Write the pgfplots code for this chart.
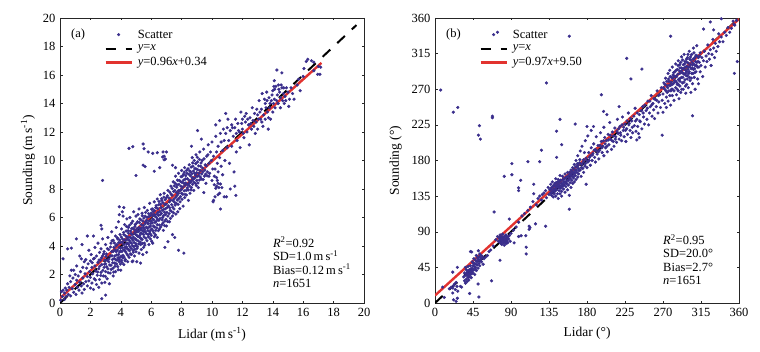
\documentclass[border=0pt]{standalone}
\usepackage{pgfplots}
\usepackage{fontspec}
\setmainfont{Liberation Serif}
\pgfplotsset{compat=1.18}
\definecolor{dotblue}{HTML}{3A2E8C}
\definecolor{linered}{HTML}{E2332F}
\pgfplotsset{common/.style={
  at={(0,0)},anchor=south west,
  scale only axis,width=304bp,height=285bp,
  axis line style={line width=0.9pt,color=black!85},
  tick style={color=black!85,line width=0.5pt},
  major tick length=2.5bp,
  tick align=inside,
  ticks=major,
  font=\fontsize{12.5bp}{14bp}\selectfont,
  tick label style={font=\fontsize{12.5bp}{14bp}\selectfont},
  label style={font=\fontsize{13.5bp}{15bp}\selectfont},
  /pgf/number format/assume math mode=true,
  xticklabel style={yshift=-2bp},
  yticklabel style={xshift=-1bp},
  xlabel style={yshift=-3.5bp},
  legend cell align=left,
  legend style={draw=none,fill=none,at={(rel axis cs:0.142,0.97)},anchor=north west,
    font=\fontsize{12.5bp}{14bp}\selectfont,row sep=1.4bp,inner sep=1bp,/tikz/column 1/.style={column sep=3bp}},
  scatterkey/.style={legend image code/.code={\draw[##1] plot coordinates {(0.46cm,0cm)};}},
}}
\pgfplotsset{
 /pgfplots/legend image code/.code={\draw[#1] plot coordinates {(0cm,0cm)(0.92cm,0cm)};}
}
\begin{document}
\begin{tikzpicture}[x=1bp,y=1bp]
\path[use as bounding box] (0,0) rectangle (760,351);
\begin{scope}[shift={(60,48)}]
\begin{axis}[common,xmin=0,xmax=20,ymin=0,ymax=20,xtick={0,2,...,20},ytick={0,2,...,20},
 ylabel style={yshift=1bp},
 xlabel={Lidar (m\,s\textsuperscript{-1})},ylabel={Sounding (m\,s\textsuperscript{-1})}]
\addplot[only marks,scatterkey,mark=*,mark size=1.4bp,mark options={draw=none,fill=dotblue},color=dotblue] coordinates {
(4.54,10.85)(4.79,10.97)(5.47,11.16)(5.53,10.83)(5.8,10.6)(6.1,10.5)(6.4,10.55)(6.78,10.6)(7,10.6)(6.85,10.3)(6.94,10.1)(6.85,10.05)(6.75,10.25)(5.47,9.67)(5.6,9.57)(6.56,9.5)(6.2,9.25)(7.4,9.67)(7.6,9.5)(5,8.95)(9.05,12.1)(9.3,11.5)(10.9,13.3)(11.05,12.9)(10.5,12.8)(10.25,12.5)(8.65,11)(14.27,16.35)(14.6,16.15)(14.1,15.6)(14.07,15.2)(16.2,16.95)(16.3,17.1)(16.55,17)(16.7,16.9)(16.05,16.45)(16.95,16.05)(17.1,16.05)(17.15,16.55)(17,16.6)(16.7,16.3)(2.8,8.6)
(10.07,7.1)(10.4,7.6)(10.2,7.45)(10.5,7.7)(10.56,6.6)(10.1,7.2)(11.5,8.2)(11.57,7.55)(11.2,8)(10.95,7.45)(10.8,7.45)(10.3,8.2)(10.4,8.4)(10.3,8.8)(9.46,7.75)(9.8,8.9)(10.45,8.1)(10.25,8.05)(10.55,8.35)(10.35,8.6)(10.15,8.9)(10.4,9.2)(10.6,9.6)(10.2,9.4)(10.7,9)
(7.4,4.8)(7.55,4.6)(7.1,4.3)(6.9,3.9)(7.8,3.7)(8.15,3.5)(5.3,2.8)(4.8,2.95)(5.05,2.9)(5.45,3.4)(3.9,6.75)(4.2,6.7)(3.9,6.2)(4.1,6.4)(1.08,4.5)(1.45,4.1)(0.5,3.8)(0.75,3.85)(0.2,3.1)(1.8,4.7)(2.2,4.7)(2.7,5.45)(2.75,5.2)(2.75,0.3)(3,0.55)
(0.05,0.2)(0.1,0.8)(0.15,0.45)(0.2,0.9)(0.3,0.25)(0.3,0.7)(0.35,1.05)(0.4,0.45)(0.45,0.9)(0.5,1.35)(0.55,0.6)(0.6,1.1)(0.65,1.9)(0.7,0.5)(0.7,1.5)(0.75,2.3)(0.8,1)(0.85,1.75)(0.9,2.3)(0.9,0.75)(1,1.3)(1,2)(1.05,0.6)(1.1,1.6)(1.1,2.6)(1.15,1.1)(1.2,1.9)(1.25,0.9)(1.3,1.45)(1.3,3.3)(1.35,2.2)(1.4,3.1)(1.4,1.2)(1.45,0.7)(1.5,1.75)(1.5,2.5)(1.55,1.35)(1.6,2.9)(1.6,0.95)(1.65,2.05)(1.7,1.5)(1.7,3.05)(1.75,2.45)(1.8,1.2)(1.8,1.85)(1.85,2.75)(1.9,3.7)(1.9,1.55)(1.95,2.2)(2,1.05)(2,2.95)(2,1.8)(2.05,3.4)(2.1,2.5)(2.1,1.4)(2.15,2.05)(2.2,3.1)(2.2,0.95)(2.25,1.7)(2.3,3.9)(2.3,2.6)(2.35,2.25)(2.4,1.3)(2.4,3.3)(2.45,1.95)(2.5,2.85)(2.5,4.2)(2.55,1.1)(2.55,2.4)(2.6,3.55)(2.6,1.65)(2.65,3)(2.7,2.15)(2.7,3.8)(2.75,1.4)(2.75,2.7)(2.8,3.3)(2.8,4.5)(2.85,1.9)(2.9,2.5)(2.9,3.6)(2.95,1.45)(2.95,3)(3,2.2)(3,4.1)(3,2.75)(3.05,3.45)(3.1,1.7)(3.1,3)(3.15,2.4)(3.15,4.6)(3.2,3.75)(3.2,2.9)(3.25,1.35)(3.3,3.3)(3.3,2.1)(3.35,4.2)(3.35,2.65)(3.4,3.6)(3.4,5)(3.45,3.05)(3.5,1.9)(3.5,4.4)(3.5,2.45)(3.55,3.9)(3.6,3.3)(3.6,2.8)(3.65,4.7)(3.65,2.2)(3.7,3.6)(3.7,5.3)(3.75,4.1)(3.75,3)(3.8,2.55)(3.8,4.5)(3.85,3.4)(3.85,5.7)(3.9,3.9)(3.9,2.9)(3.95,4.8)(3.95,3.2)(4,4.25)(4,2.3)(4,3.65)(4.05,5.2)(4.05,3)(4.1,4.5)(4.1,3.9)(4.15,6.1)(4.15,3.35)(4.2,4.8)(4.2,2.7)(4.2,4.1)(4.25,5.5)(4.25,3.7)(4.3,3.05)(4.3,4.4)(4.35,5.05)(4.35,3.95)(4.4,5.9)(4.4,3.45)(4.4,4.65)(4.45,2.9)(4.45,4.2)(4.5,5.3)(4.5,3.75)(4.5,4.9)(4.55,3.2)(4.55,4.4)(4.6,6)(4.6,3.95)(4.65,5.05)(4.65,4.6)(4.7,3.4)(4.7,5.6)(4.7,4.2)(4.75,2.9)(4.75,4.8)(4.8,3.7)(4.8,5.25)(4.8,4.4)(4.85,6.4)(4.85,3.95)(4.9,4.95)(4.9,3.3)(4.95,5.5)(4.95,4.5)(5,4.15)(5,5.1)(5,3.6)(5,6.1)(5.05,4.75)(5.1,5.7)(5.1,3.95)(5.1,5)(5.15,4.35)(5.2,6.6)(5.2,5.3)(5.2,3.5)(5.25,4.6)(5.25,5.9)(5.3,4.9)(5.3,4.1)(5.35,5.5)(5.35,3.75)(5.4,6.3)(5.4,5.1)(5.4,4.45)(5.45,5.75)(5.5,4.8)(5.5,5.3)(5.5,3.9)(5.55,6.7)(5.55,4.2)(5.6,5.55)(5.6,6.1)(5.6,5)(5.65,4.55)(5.7,5.8)(5.7,3.55)(5.75,5.25)(5.75,6.5)(5.8,4.8)(5.8,5.55)(5.85,4.1)(5.85,6.05)(5.9,5)(5.9,7)(5.95,5.4)(5.95,4.5)(6,6.3)(6,5.75)(6,4.75)(6.05,5.2)(6.1,6.6)(6.1,4.2)(6.1,5.9)(6.15,5.4)(6.2,7.1)(6.2,6.2)(6.2,4.65)(6.25,5.65)(6.3,6.7)(6.3,5.1)(6.35,6)(6.4,7.3)(6.4,5.5)(6.4,4.6)(6.45,6.35)(6.5,5.8)(6.5,6.9)(6.55,5.2)(6.6,7.6)(6.6,6.2)(6.65,6.7)(6.7,5.5)(6.7,7.2)(6.75,6)(6.8,5.1)(6.8,6.55)(6.85,7.7)(6.9,6.9)(6.9,5.75)(6.95,6.2)(7,7.4)(7,5.4)(7.05,6.7)(7.1,7.9)(7.1,6.1)(7.2,7.1)(7.2,5.7)(7.25,6.5)(7.3,7.65)(7.3,8.2)(7.35,6.9)(7.4,6.1)(7.45,8.5)(7.5,7.3)(7.5,6.6)(7.55,7.9)(7.6,8.9)(7.65,7)(7.7,8.3)(7.7,7.55)(7.75,6.4)(7.8,9.1)(7.8,7.9)(7.85,8.6)(7.9,7.1)(7.95,8.2)(8,9.3)(8,7.7)(8.05,8.9)(8.1,6.8)(8.15,8.4)(8.2,7.4)(8.2,9.5)(8.25,8.7)(8.3,7.9)(8.35,9.1)(8.4,8.3)(8.45,7.2)(8.5,9.7)(8.5,8.6)(8.55,7.7)(8.6,9.2)(8.65,8.1)(8.7,10.2)(8.7,8.8)(8.75,9.6)(8.8,7.9)(8.85,9.1)(8.9,8.4)(8.95,10.4)(9,9.4)(9,8.6)(9.05,9.9)(9.1,8.1)(9.15,9.1)(9.2,10.6)(9.25,9.6)(9.3,8.7)(9.35,10)(9.4,9.2)(9.45,10.8)(9.5,8.9)(9.55,9.7)(9.6,8.4)(9.65,10.3)(9.7,9.2)(9.75,11.1)(9.8,9.8)(9.85,9.1)(9.9,10.6)(9.95,10)(10,8.6)(10,11.3)(10.05,9.4)(10.1,10.3)(10.15,8.3)(10.25,11.7)(10.3,10.6)(10.35,9.8)(10.4,11)(10.5,10.2)(10.55,11.9)(10.6,11.3)(10.65,8.1)(10.7,10.7)(10.75,12.2)(10.8,11.4)(10.85,10)(10.9,11.9)(11,10.9)(11,12.3)(11.1,11.4)(11.15,9.8)(11.2,12.1)(11.3,11)(11.3,12.5)(11.4,11.7)(11.45,9.2)(11.5,12.3)(11.6,10.6)(11.6,11.9)(11.7,12.6)(11.8,12)(11.85,10.9)(11.9,13.4)(12,12.2)(12,12.9)(12.1,11.6)(12.2,12.7)(12.25,13.3)(12.3,12)(12.4,12.5)(12.45,11.1)(12.5,13)(12.6,12.2)(12.65,13.7)(12.7,12.8)(12.8,13.3)(12.85,11.9)(12.9,12.7)(13,13.2)(13,12.2)(13.1,14.2)(13.2,12.9)(13.25,13.6)(13.3,14.7)(13.35,12.4)(13.4,13.2)(13.5,14)(13.5,12.9)(13.6,14.8)(13.65,13.4)(13.7,12.2)(13.75,14.4)(13.8,13.7)(13.85,12.9)(13.9,14.2)(14,13.4)(14,14.9)(14.1,14.3)(14.15,13.7)(14.2,15.2)(14.3,14.6)(14.35,14)(14.4,15)(14.5,14.4)(14.5,13.7)(14.6,15.1)(14.7,14.7)(14.75,14)(14.8,14.5)(14.9,15.1)(15,14.8)(15.05,13.8)(15.1,14.3)(15.2,15.1)(15.3,14.7)(15.4,14.3)(15.6,15.3)(15.7,15.7)(15.8,14.9)(16,15.9)
(2.12,2.83)(2.27,3.14)(2.33,1.62)(2.48,2.17)(2.57,3.02)(2.62,2.58)(2.68,1.93)(2.73,3.17)(2.82,2.29)(2.87,3.44)(2.93,2.72)(2.98,1.87)(3.03,3.26)(3.07,2.54)(3.12,3.81)(3.17,2.13)(3.22,3.09)(3.27,2.67)(3.32,3.93)(3.37,2.36)(3.42,3.31)(3.43,4.37)(3.47,2.82)(3.52,3.64)(3.53,2.17)(3.57,3.12)(3.58,4.21)(3.62,2.58)(3.63,3.71)(3.67,3.04)(3.68,4.02)(3.72,2.74)(3.73,3.37)(3.77,4.58)(3.78,3.72)(3.82,3.18)(3.83,2.33)(3.87,4.24)(3.88,3.06)(3.92,3.58)(3.93,4.42)(3.97,2.73)(3.98,3.84)(4.02,3.29)(4.03,4.63)(4.07,3.61)(4.08,2.84)(4.12,4.27)(4.13,3.17)(4.17,3.73)(4.18,4.95)(4.22,3.22)(4.23,4.43)(4.27,3.88)(4.28,2.96)(4.32,4.71)(4.33,3.58)(4.37,4.16)(4.38,5.37)(4.42,3.82)(4.43,4.48)(4.47,3.34)(4.48,5.08)(4.52,4.12)(4.53,4.61)(4.57,3.67)(4.58,5.46)(4.62,4.27)(4.63,3.45)(4.67,4.88)(4.68,3.82)(4.72,5.23)(4.73,4.51)(4.77,4.02)(4.78,5.74)(4.82,3.56)(4.83,4.62)(4.87,5.17)(4.88,4.24)(4.92,3.78)(4.93,5.36)(4.97,4.82)(4.98,4.03)(5.02,5.58)(5.03,4.42)(5.07,3.83)(5.08,5.23)(5.12,4.66)(5.13,6.21)(5.17,5.02)(5.18,4.14)(5.22,5.64)(5.23,4.73)(5.27,5.14)(5.28,4.27)(5.32,5.83)(5.33,4.52)(5.37,5.26)(5.38,4.87)(5.42,6.12)(5.43,4.18)(5.47,5.44)(5.48,5.03)(5.52,5.96)(5.53,4.63)(5.57,5.17)(5.58,4.06)(5.62,5.68)(5.63,6.36)(5.67,4.88)(5.68,5.32)(5.72,4.37)(5.73,6.02)(5.77,5.62)(5.78,5.08)(5.82,4.64)(5.83,6.27)(5.87,5.33)(5.88,5.76)(5.92,4.87)(5.93,6.14)(5.97,5.58)(5.98,5.13)(6.02,6.58)(6.03,4.33)(6.07,5.62)(6.08,6.13)(6.12,5.06)(6.13,6.41)(6.17,5.83)(6.18,4.92)(6.22,6.48)(6.23,5.33)(6.27,6.07)(6.28,4.78)(6.32,5.72)(6.33,6.83)(6.37,5.27)(6.38,6.24)(6.42,5.86)(6.43,6.62)(6.47,5.08)(6.48,6.14)(6.52,7.12)(6.53,5.47)(6.57,6.42)(6.58,5.93)(6.62,6.93)(6.63,5.34)(6.67,6.28)(6.68,7.32)(6.72,5.83)(6.73,6.51)(6.77,7.04)(6.78,5.62)(6.82,6.13)(6.83,7.43)(6.87,6.37)(6.88,5.43)(6.92,7.26)(6.93,6.61)(6.97,5.87)(6.98,6.94)(7.03,6.36)(7.07,7.53)(7.08,5.72)(7.13,6.82)(7.17,7.37)(7.18,6.27)(7.22,6.68)(7.23,7.78)(7.27,5.94)(7.28,7.21)(7.33,6.43)(7.37,7.57)(7.38,8.04)(7.42,6.72)(7.43,7.18)(7.47,6.33)(7.48,7.83)(7.52,8.22)(7.53,7.07)(7.57,6.87)(7.58,8.41)(7.62,7.42)(7.63,6.24)(7.67,7.76)(7.68,8.13)(7.72,7.23)(7.73,8.62)(7.77,6.92)(7.78,7.68)(7.82,8.32)(7.83,7.34)(7.87,7.88)(7.88,6.62)(7.92,8.53)(7.93,7.47)(7.97,8.86)(7.98,7.96)(8.02,8.47)(8.03,7.28)(8.07,8.13)(8.08,7.63)(8.12,9.02)(8.13,8.62)(8.17,7.87)(8.18,9.18)(8.22,8.26)(8.23,7.62)(8.27,8.93)(8.28,8.42)(8.32,7.58)(8.33,9.31)(8.37,8.08)(8.38,8.72)(8.42,9.42)(8.43,7.93)(8.47,8.37)(8.48,9.04)(8.52,8.21)(8.53,9.27)(8.57,8.46)(8.58,8.93)(8.62,7.94)(8.63,9.54)(8.67,8.58)(8.68,9.07)(8.72,8.33)(8.73,9.83)(8.77,8.69)(8.78,9.26)(8.82,8.47)(8.83,10)(8.87,8.76)(8.88,9.43)(8.92,8.97)(8.93,9.78)(8.97,8.24)(8.98,9.14)(9.02,8.87)(9.03,10.23)(9.07,9.34)(9.08,8.42)(9.12,9.62)(9.13,8.93)(9.17,10.08)(9.18,8.63)(9.22,9.3)(9.23,8.84)(9.28,9.83)(9.33,9.06)(9.38,9.47)(9.42,8.66)(9.48,10.12)(9.53,9.32)(9.58,9.04)(9.63,9.62)(9.68,8.92)(9.73,10.4)
(11.35,12.3)(11.55,12.9)(11.65,11.4)(11.75,12.1)(11.95,12.6)(12.05,11.9)(12.15,13.1)(12.35,12.9)(12.55,12.6)(12.75,12.4)(12.95,13.6)(13.05,12.9)(13.15,13.4)(13.28,12.7)(13.45,14.3)(13.55,13.7)(13.62,14.2)(13.72,13)(13.82,14)(13.95,14.6)(14.05,14)(14.12,15)(14.25,14.2)(14.37,15.3)(14.45,14.8)(14.55,15.3)(14.65,14.2)(14.72,15.1)(14.85,14.2)
};
\addlegendentry{Scatter}
\addplot[black,line width=2bp,dash pattern=on 10.5bp off 9.5bp] coordinates {(0,0)(19.5,19.5)};
\addlegendentry{\textit{y}=\textit{x}}
\addplot[color=linered,line width=2.4bp] coordinates {(0,0.34)(17.2,16.85)};
\addlegendentry{\textit{y}=0.96\textit{x}+0.34}
\node[anchor=north west] at (axis cs:0.5,19.5) {\fontsize{12.5bp}{14bp}\selectfont (a)};
\node[anchor=north west,align=left,inner sep=0pt,font=\fontsize{12.5bp}{13.5bp}\selectfont] at (axis cs:14,4.65) {\textit{R}\textsuperscript{2}=0.92\\SD=1.0\,m\,s\textsuperscript{-1}\\Bias=0.12\,m\,s\textsuperscript{-1}\\\textit{n}=1651};
\end{axis}
\end{scope}
\begin{scope}[shift={(435,48)}]
\begin{axis}[common,xmin=0,xmax=360,ymin=0,ymax=360,xtick={0,45,...,360},ytick={0,45,...,360},
 ylabel style={yshift=3bp},
 xlabel={Lidar (°)},ylabel={Sounding (°)}]
\addplot[only marks,scatterkey,mark=*,mark size=1.4bp,mark options={draw=none,fill=dotblue},color=dotblue] coordinates {
(6.7,269)(21.7,241)(27,247)(52.6,224)(68,236)(68,234)(51.4,212)(53.8,207)(74,342)(159,337)(132,278)(148,232)(144,217)(126,193)(197,263)(227,309)(232,283)(245,295.5)(279,337)(305,236.5)(269,212)(358,305)(354.5,290)(339,359)(326,355)(318,346)(330,345)(354,352)(239,206)(242,209)(218,248)(199.6,242)(203.5,238)(166,226)(91,176)(110,178.5)(124,178.5)(150,200)(144,184)(180,223)(187.7,223)
(70,115)(88,106)(117,138)(99,145.5)(99,142)(101.5,155)(82,160)(91,162)(117,150)(159,118.5)(179,150)(131,97)(119,100)(111.5,93)(111.5,97)(112.5,95)(107.5,85)(102,85)(99,84)(93.7,76)(108,70.5)(108,62)(77,54)(67,28)(51,24)(52,7.6)(41,12)(26.5,6)(25,2)(22,4)(21,12.6)(21,39)(26.5,45)(11,7)(9,20)(30,21)(31.5,20)(42,65)(43.5,64.5)(51.4,66)
(17,18)(19,20)(21,19)(23,24)(24,17)(25,26)(26,21)(27,15)(22,22)(36,45)(35,38)(34,33)(35,28)(36,25)(37,30)(38,35)(37,42)(38,27)(39,32)(40,37)(39,46)(40,29)(41,33)(41,41)(42,36)(42,47)(43,39)(43,32)(44,44)(44,52)(45,38)(45,47)(46,42)(46,56)(47,50)(47,36)(48,45)(48,54)(49,41)(49,60)(50,48)(50,53)(51,44)(52,58)(52,50)(53,47)(53,62)(54,55)(55,52)(56,59)(57,49)(58,56)(60,58)(62,60)(64,65)(66,67)(69,72)
(72,80)(74,84)(75,78)(76,82)(77,86)(77,76)(78,80)(78,84)(79,74)(79,78)(80,82)(80,87)(81,76)(81,80)(82,84)(82,73)(83,78)(83,81)(84,75)(84,86)(85,79)(85,83)(86,76)(87,81)(88,85)(89,78)(90,88)(93,92)(96,96)(99,102)(103,110)(106,113)(110,117)(113,121)(116,128)(120,124)(122,132)(124,135)(126,130)(127,137)(129,139)(131,142)(132,133)(134,146)(135,137)
(136,143)(137,139)(137,150)(138,136)(138,146)(139,141)(139,153)(140,134)(140,148)(141,144)(141,138)(142,151)(142,141)(143,147)(143,135)(143,157)(144,143)(144,152)(145,138)(145,149)(146,146)(146,156)(146,132)(147,142)(147,153)(148,148)(148,138)(148,161)(149,145)(149,155)(150,151)(150,141)(150,135)(151,148)(151,160)(152,153)(152,144)(153,157)(153,149)(154,140)(154,163)(155,153)(155,147)(156,159)(156,151)(157,143)(157,165)(158,155)(158,149)(159,162)(159,136)(160,157)(160,152)(161,168)(161,146)(162,160)(162,155)(163,171)(163,151)(164,164)(164,158)(165,175)(165,153)(166,167)(166,161)(167,180)(167,156)(168,172)(168,165)(169,159)(169,186)(170,170)(170,163)(171,177)(172,168)(172,192)(173,160)(174,175)(174,198)(175,170)(176,181)(176,165)(177,190)(178,176)(178,205)(179,183)(180,171)(181,178)(181,211)(182,190)(183,184)(184,174)(185,196)(185,218)(186,180)(187,189)(188,201)(189,184)(190,194)(190,178)(191,210)(192,188)(193,199)(194,182)(195,193)(196,215)(197,204)(198,190)(199,198)(200,186)(200,222)(201,209)(202,196)(203,205)(204,191)(205,213)(206,200)(207,228)(208,207)(209,194)(210,216)(211,204)(212,198)(213,221)(214,210)(215,203)(216,232)(217,214)(218,207)(219,223)(220,212)(221,205)(222,235)(223,218)(224,210)(225,226)(226,204)(227,220)(228,213)(229,240)(230,227)(231,218)(232,209)(233,230)(234,215)(236,224)(237,246)(238,217)(239,232)(240,223)(241,214)(242,238)(243,229)(245,220)(246,248)(247,235)(248,226)(250,243)(251,232)(252,255)(253,225)(254,240)(255,248)(256,262)(257,236)(258,252)(259,244)(260,233)(261,257)(262,248)(263,268)(264,240)(265,254)(266,263)(267,247)(268,272)(269,256)(270,241)(270,264)(271,278)(272,252)(272,270)(273,284)(274,260)(274,247)(275,274)(275,266)(276,290)(276,255)(277,280)(277,268)(278,262)(278,294)(279,275)(279,250)(280,285)(280,270)(281,262)(281,298)(282,277)(282,288)(283,268)(283,256)(284,292)(284,281)(285,272)(285,302)(286,263)(286,286)(287,295)(287,276)(288,268)(288,306)(289,283)(289,258)(290,297)(290,290)(290,274)(291,304)(291,266)(292,285)(292,311)(293,278)(293,296)(294,301)(294,270)(295,289)(295,314)(296,282)(296,305)(297,294)(297,265)(298,299)(298,276)(299,310)(299,287)(300,303)(300,272)(301,292)(301,318)(302,298)(302,281)(303,307)(303,266)(304,290)(304,314)(305,301)(305,277)(306,295)(306,322)(307,309)(307,285)(308,300)(308,270)(309,313)(309,292)(310,304)(310,325)(311,283)(311,298)(312,310)(312,277)(313,304)(314,316)(314,292)(315,300)(316,310)(317,286)(318,306)(319,318)(320,298)(321,312)(322,305)(323,326)(324,315)(325,308)(326,320)(327,300)(328,314)(329,333)(330,322)(331,310)(332,328)(333,318)(335,324)(336,340)(337,330)(339,336)(341,330)(343,342)(345,338)(347,348)(349,342)(351,347)(353,356)(355,351)(357,357)
(36.5,35)(37.5,37)(38.5,40)(39.5,35)(40.5,42)(41.5,38)(42.5,43)(43.5,37)(44.5,41)(45.5,50)(46.5,46)(47.5,43)(48.5,49)(49.5,52)(50.5,57)(51.5,55)(52.5,54)(53.5,58)(54.5,60)(55.5,57)(137.5,144)(138.5,140)(139.5,147)(140.5,143)(141.5,149)(142.5,144)(143.5,152)(144.5,147)(145.5,153)(146.5,150)(147.5,146)(148.5,155)(149.5,151)(150.5,147)(151.5,156)(152.5,150)(153.5,153)(154.5,158)(155.5,151)(156.5,155)(157.5,160)(158.5,158)(159.5,165)(160.5,161)(161.5,163)(162.5,166)(163.5,160)(164.5,169)(165.5,164)(166.5,172)(167.5,168)(168.5,176)(169.5,174)(170.5,167)(171.5,181)(172.5,176)(173.5,171)(175.5,178)(177.5,173)(179.5,180)(182.5,180)(184.5,186)(186.5,187)(188.5,193)(191.5,192)(193.5,191)(195.5,199)(197.5,196)(199.5,205)(201.5,201)(203.5,198)(205.5,206)(207.5,212)(209.5,205)(211.5,211)(213.5,207)(215.5,217)(217.5,220)(219.5,215)(221.5,225)(223.5,222)(225.5,218)(227.5,230)(229.5,225)(231.5,233)(233.5,222)(235.5,236)(237.5,230)(239.5,240)(242.5,230)(244.5,243)(246.5,240)(248.5,250)(251.5,246)(254.5,255)(256.5,250)(259.5,258)(262.5,256)(264.5,262)
(270.5,272)(272.5,276)(273.5,268)(274.5,280)(275.5,272)(276.5,283)(277.5,275)(278.5,286)(279.5,279)(280.5,276)(281.5,284)(282.5,291)(283.5,279)(284.5,286)(285.5,294)(286.5,278)(287.5,289)(288.5,282)(289.5,293)(290.5,284)(291.5,297)(292.5,291)(293.5,285)(294.5,296)(295.5,302)(296.5,290)(297.5,287)(298.5,304)(299.5,295)(300.5,290)(301.5,308)(302.5,301)(303.5,296)(304.5,304)(305.5,290)(306.5,302)(307.5,296)(308.5,311)(309.5,300)(310.5,312)(311.5,305)(312.5,298)(313.5,312)(287.8,300)(289.7,301)(291.8,293)(293.2,307)(294.8,279)(296.2,298)(297.8,308)(298.7,283)(299.6,314)(301.3,285)(302.6,311)(303.6,284)(304.7,297)(305.7,308)(306.6,316)(307.7,291)(308.6,305)(279.2,268)(281.2,270)(283.2,286)(285.2,280)(286.8,270)(288.2,276)(290.2,280)(292.2,270)(294.2,290)(296.6,274)(298.2,292)(300.3,298)
(76.5,79)(77.5,81)(78.5,76)(79.5,83)(80.5,79)(81.5,83)(82.5,77)(83.5,85)(84.5,81)(85.5,77)(86.5,84)
};
\addlegendentry{Scatter}
\addplot[black,line width=2bp,dash pattern=on 10.5bp off 9.5bp] coordinates {(0,0)(360,360)};
\addlegendentry{\textit{y}=\textit{x}}
\addplot[color=linered,line width=2.4bp] coordinates {(0,9.5)(360,358.7)};
\addlegendentry{\textit{y}=0.97\textit{x}+9.50}
\node[anchor=north west] at (axis cs:9,351) {\fontsize{12.5bp}{14bp}\selectfont (b)};
\node[anchor=north west,align=left,inner sep=0pt,font=\fontsize{12.5bp}{13.5bp}\selectfont] at (axis cs:270,87) {\textit{R}\textsuperscript{2}=0.95\\SD=20.0°\\Bias=2.7°\\\textit{n}=1651};
\end{axis}
\end{scope}
\end{tikzpicture}
\end{document}
